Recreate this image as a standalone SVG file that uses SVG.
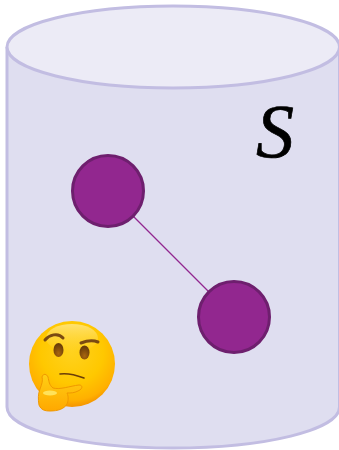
<svg xmlns="http://www.w3.org/2000/svg" width="339" height="450" viewBox="0 0 339 450">
<defs>
<radialGradient id="face" cx="0.5" cy="0.36" r="0.66">
<stop offset="0" stop-color="#ffd21e"/><stop offset="0.55" stop-color="#ffc800"/><stop offset="0.85" stop-color="#ffb000"/><stop offset="1" stop-color="#f28c00"/>
</radialGradient>
<linearGradient id="shine" x1="0" y1="0" x2="0" y2="1">
<stop offset="0" stop-color="#ffe88a" stop-opacity="0.8"/><stop offset="1" stop-color="#ffe060" stop-opacity="0"/>
</linearGradient>
<linearGradient id="hand" x1="0" y1="0" x2="0" y2="1">
<stop offset="0" stop-color="#ffcf14"/><stop offset="1" stop-color="#ffa800"/>
</linearGradient>
<radialGradient id="eye" cx="0.5" cy="0.75" r="0.65"><stop offset="0" stop-color="#a8660f"/><stop offset="1" stop-color="#6b3d08"/></radialGradient>
</defs>
<style>
.cyl{stroke:#c2bde2;stroke-width:3}
.node{fill:#92278f;stroke:#6e1f6e;stroke-width:3}
.link{stroke:#92278f;stroke-width:1.2;fill:none}
.brow{fill:none;stroke:#7a4a12;stroke-width:3;stroke-linecap:round}
</style>
<g id="cylinder">
<path class="cyl" fill="#dfdef0" d="M7 47V407C7 430 81 448 173 448S339.500 430 339.500 407V47"/>
<ellipse class="cyl" fill="#ecebf6" cx="173.250" cy="47" rx="166.250" ry="41"/>
</g>
<g id="connectors">
<line class="link" x1="108" y1="191" x2="234" y2="317"/>
</g>
<g id="node-a"><circle class="node" cx="108" cy="191" r="35.500"/></g>
<g id="node-b"><circle class="node" cx="234" cy="317" r="35.500"/></g>
<text x="256" y="157" font-family="'Liberation Serif',serif" font-style="italic" font-size="76" fill="#000" stroke="#000" stroke-width="0.700">S</text>
<g id="emoji">
<circle cx="72" cy="364" r="43" fill="url(#face)"/>
<ellipse cx="72" cy="338" rx="26" ry="14" fill="url(#shine)"/>
<path class="brow" d="M45 340C49 335 58 332 63 338"/>
<path class="brow" d="M81 343C86 341 93 340 98 342"/>
<ellipse cx="58.500" cy="350" rx="5" ry="7" fill="url(#eye)"/>
<ellipse cx="84.500" cy="352.500" rx="5" ry="7" fill="url(#eye)"/>
<path d="M60 374C67 373 76 375 84 378" fill="none" stroke="#6b3d08" stroke-width="1.600" stroke-linecap="round"/>
<path d="M40 389C42 384 43 380 42 377C43 373 47 374 48 377C49 381 49 385 53 388C60 390 70 386 79 385C83 385 83 389 78 391C74 393 71 393 67 393C69 397 68 402 67 404C64 409 58 411 50 411C45 411 41 410 39 405C38 399 38 394 40 389Z" fill="url(#hand)" stroke="#f09800" stroke-width="1"/>
<ellipse cx="50" cy="393" rx="7" ry="2.500" fill="#ffe25a"/>
</g>
</svg>
